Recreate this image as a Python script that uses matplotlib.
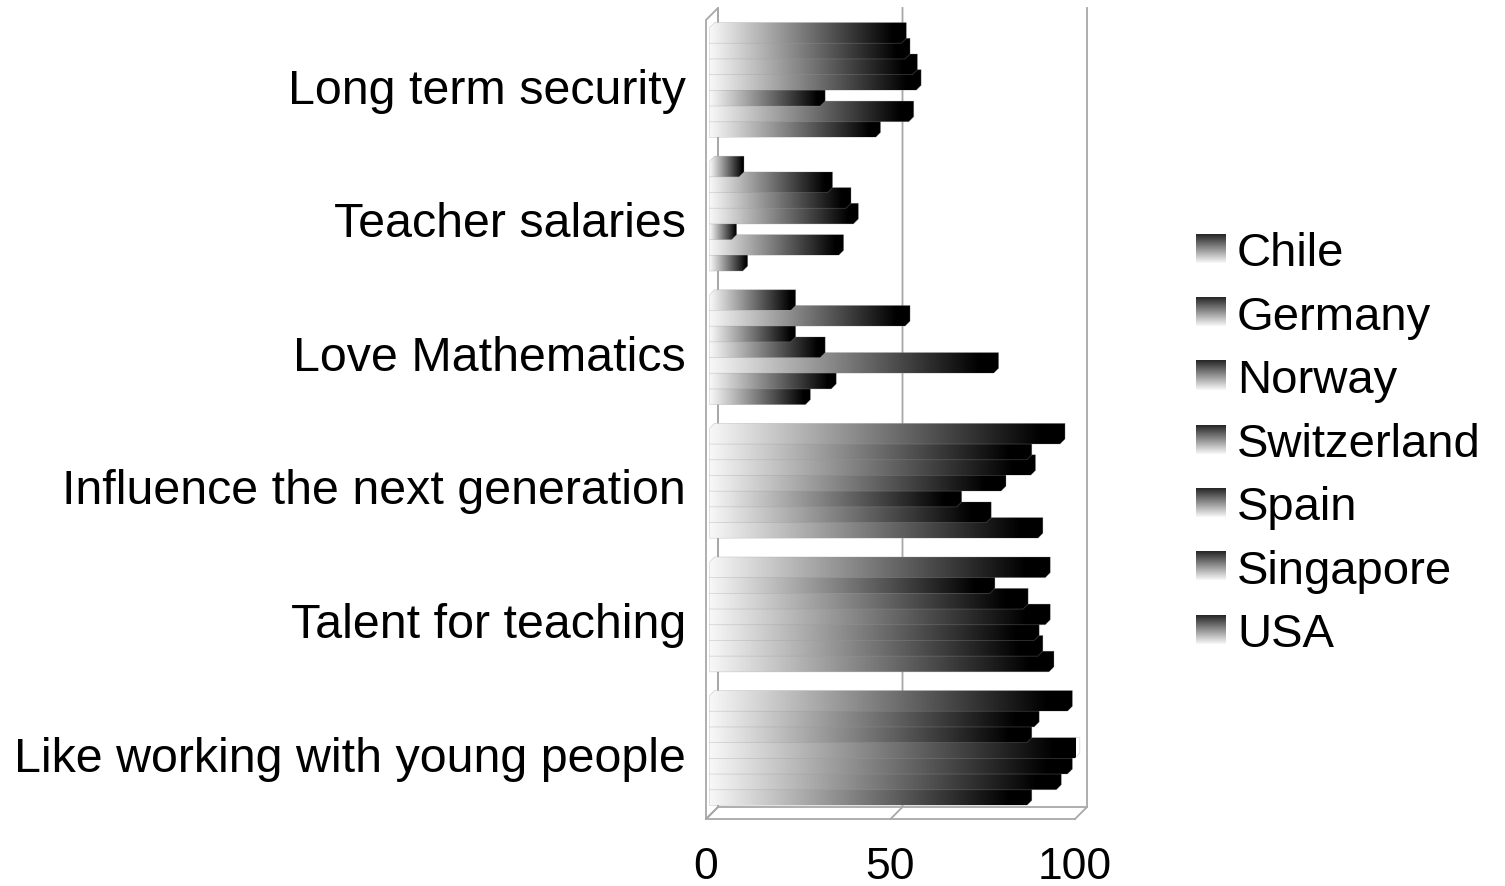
import numpy as np
import matplotlib
matplotlib.use('Agg')
import matplotlib.pyplot as plt
from matplotlib.patches import Polygon

plt.rcParams['font.family'] = ['Liberation Sans', 'DejaVu Sans']

categories = ['Long term security', 'Teacher salaries', 'Love Mathematics',
              'Influence the next generation', 'Talent for teaching',
              'Like working with young people']
countries = ['Chile', 'Germany', 'Norway', 'Switzerland', 'Spain', 'Singapore', 'USA']

# percent of teachers per reason, categories listed top to bottom
chile       = [52, 8, 22, 95, 91, 97]
germany     = [53, 32, 53, 86, 76, 88]
norway      = [55, 37, 22, 87, 85, 86]
switzerland = [56, 39, 30, 79, 91, 99]
spain       = [30, 6, 77, 67, 88, 97]
singapore   = [54, 35, 33, 75, 89, 94]
usa         = [45, 9, 26, 89, 92, 86]
values = [chile, germany, norway, switzerland, spain, singapore, usa]
x_ticks = [0, 50, 100]

W, H = 1505, 886
fig = plt.figure(figsize=(W / 100, H / 100), dpi=100)

# plot box (front plane), in pixels
left_px, right_px, top_px, bot_px = 706, 1075, 20, 819
cat0_px, cat_step = 86, 133.6
PX_X = (right_px - left_px) / 100.0
PX_Y = cat_step

ax = fig.add_axes([left_px / W, (H - bot_px) / H,
                   (right_px - left_px) / W, (bot_px - top_px) / H])
ax.set_xlim(0, 100)
ybot = (bot_px - cat0_px) / cat_step
ytop = (top_px - cat0_px) / cat_step
ax.set_ylim(ybot, ytop)
ax.set_autoscale_on(False)
for s in ax.spines.values():
    s.set_visible(False)


def shift(x, y, z):
    # move a point z pixels "into" the chart (up and to the right)
    return (x + z / PX_X, y - z / PX_Y)


# walls and floor of the 3d box
WALL = 12
wall_c = '#a8a8a8'
wl = 1.3
lw_pts = [shift(0, ybot, 0), shift(0, ytop, 0), shift(0, ytop, WALL), shift(0, ybot, WALL)]
ax.add_patch(Polygon(lw_pts, closed=True, fill=False, ec=wall_c, lw=wl, clip_on=False, zorder=1))
for v in x_ticks:
    a, b, c = shift(v, ybot, 0), shift(v, ybot, WALL), shift(v, ytop, WALL)
    ax.plot([a[0], b[0], c[0]], [a[1], b[1], c[1]], color=wall_c, lw=wl, clip_on=False, zorder=1)
f0, f1 = shift(0, ybot, 0), shift(100, ybot, 0)
b0, b1 = shift(0, ybot, WALL), shift(100, ybot, WALL)
ax.plot([f0[0], f1[0]], [f0[1], f1[1]], color=wall_c, lw=wl, clip_on=False, zorder=1)
ax.plot([b0[0], b1[0]], [b0[1], b1[1]], color=wall_c, lw=wl, clip_on=False, zorder=1)

# gradient bars, light on the left, black at the tip
BAR_H = 15.7 / PX_Y
Z_FRONT, Z_BACK = 3.5, 8.5
t = np.linspace(0, 1, 256)
ramp = np.clip(0.97 * (1 - t / 0.93), 0, 1)
ramp_img = np.stack([ramp] * 3, axis=-1).reshape(1, -1, 3)

z = 2.0
n = len(countries)
for i in range(len(categories)):
    top = i - n / 2 * BAR_H
    for j in reversed(range(n)):
        v = values[j][i]
        ya = top + j * BAR_H
        yb = ya + BAR_H
        pts = [shift(0, yb, Z_FRONT), shift(0, ya, Z_FRONT), shift(0, ya, Z_BACK),
               shift(v, ya, Z_BACK), shift(v, yb, Z_BACK), shift(v, yb, Z_FRONT)]
        poly = Polygon(pts, closed=True, fc='none', ec='#9a9a9a', lw=0.5, alpha=0.4,
                       clip_on=False, zorder=z + 0.001)
        ax.add_patch(poly)
        im = ax.imshow(ramp_img, extent=[pts[0][0], pts[3][0], pts[0][1], pts[3][1]],
                       aspect='auto', interpolation='bilinear', zorder=z)
        im.set_clip_path(poly)
        im.set_clip_box(None)
        z += 0.01

ax.set_xticks(x_ticks)
ax.set_yticks(range(len(categories)), categories)
ax.tick_params(axis='x', length=0, pad=20.5, labelsize=32)
ax.tick_params(axis='y', length=0, pad=14.4, labelsize=34.8)

# legend with vertical gradient swatches
lax = fig.add_axes([0, 0, 1, 1], zorder=-1)
lax.set_xlim(0, W)
lax.set_ylim(H, 0)
lax.axis('off')
sw = np.linspace(0.15, 0.97, 64)
sw_img = np.stack([sw] * 3, axis=-1).reshape(-1, 1, 3)
for k, name in enumerate(countries):
    base = 266 + k * 63.5
    lax.imshow(sw_img, extent=[1196, 1226, base - 3, base - 32], aspect='auto',
               interpolation='bilinear')
    lax.text(1237, base, name, fontsize=34, va='baseline', ha='left')
lax.set_xlim(0, W)
lax.set_ylim(H, 0)

fig.savefig('out.png', dpi=100)
